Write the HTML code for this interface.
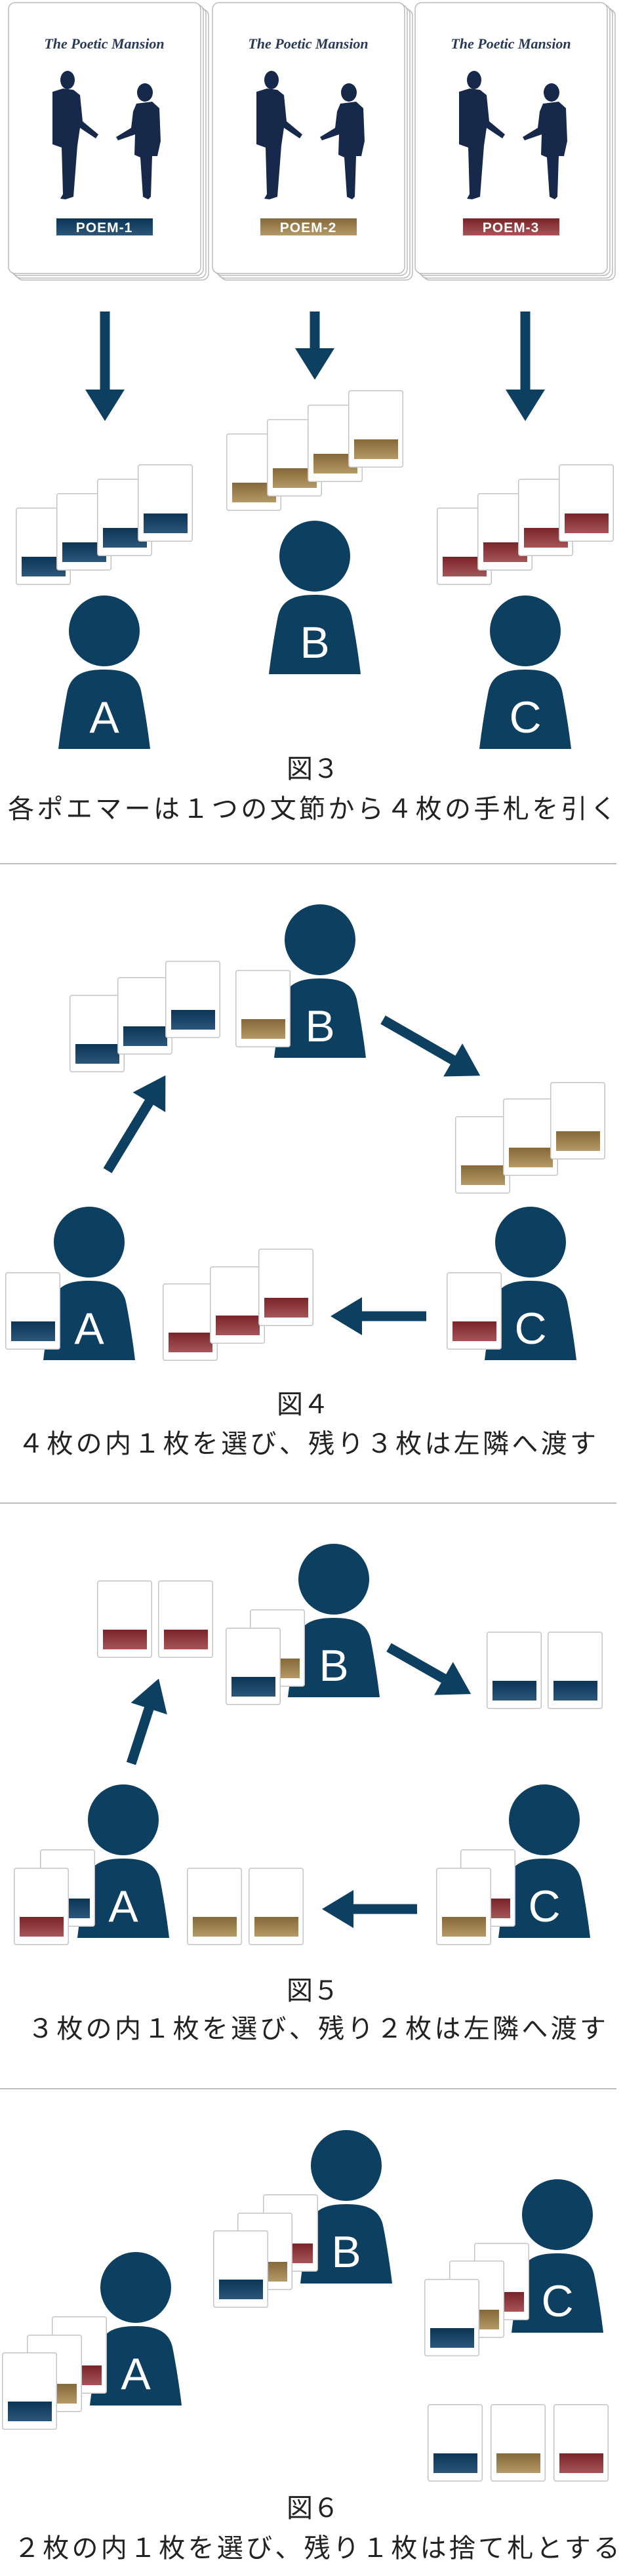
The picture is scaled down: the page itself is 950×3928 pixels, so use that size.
<!DOCTYPE html>
<html><head><meta charset="utf-8"><style>html,body{margin:0;padding:0;background:#fff}svg{display:block}</style></head>
<body>
<svg width="950" height="3928" viewBox="0 0 950 3928" xmlns="http://www.w3.org/2000/svg">
<defs>
<linearGradient id="gB" x1="0" y1="0" x2="0" y2="1"><stop offset="0" stop-color="#0b3455"/><stop offset="1" stop-color="#2c5778"/></linearGradient>
<linearGradient id="gG" x1="0" y1="0" x2="0" y2="1"><stop offset="0" stop-color="#85683a"/><stop offset="1" stop-color="#b49a66"/></linearGradient>
<linearGradient id="gR" x1="0" y1="0" x2="0" y2="1"><stop offset="0" stop-color="#7a2428"/><stop offset="1" stop-color="#a65558"/></linearGradient>
<symbol id="cb" viewBox="0 0 84 118"><rect x="0.75" y="0.75" width="82.5" height="116.5" rx="3" fill="#fff" stroke="#c4c4c4" stroke-width="1.5"/><rect x="9" y="75" width="67" height="30" fill="url(#gB)"/></symbol>
<symbol id="cg" viewBox="0 0 84 118"><rect x="0.75" y="0.75" width="82.5" height="116.5" rx="3" fill="#fff" stroke="#c4c4c4" stroke-width="1.5"/><rect x="9" y="75" width="67" height="30" fill="url(#gG)"/></symbol>
<symbol id="cr" viewBox="0 0 84 118"><rect x="0.75" y="0.75" width="82.5" height="116.5" rx="3" fill="#fff" stroke="#c4c4c4" stroke-width="1.5"/><rect x="9" y="75" width="67" height="30" fill="url(#gR)"/></symbol>
<symbol id="p" viewBox="0 0 140 235"><circle cx="70" cy="54" r="54" fill="#0c3f60"/><path d="M0,234 C4,200 10,165 14,145 C20,120 40,113 70,113 C100,113 120,120 126,145 C130,165 136,200 140,234 Z" fill="#0c3f60"/></symbol>
<g id="deck">
<rect x="25" y="14" width="293" height="413" rx="10" fill="#fff" stroke="#bbb" stroke-width="1.5"/>
<rect x="21" y="11" width="293" height="413" rx="10" fill="#fff" stroke="#bbb" stroke-width="1.5"/>
<rect x="17" y="7" width="293" height="413" rx="10" fill="#fff" stroke="#bbb" stroke-width="1.5"/>
<rect x="13" y="4" width="293" height="413" rx="10" fill="#fff" stroke="#bbb" stroke-width="1.5"/>
<g fill="#17294a">
<ellipse cx="103" cy="122" rx="11" ry="14"/>
<path d="M80,140 L96,135 L112,137 L122,145 L126,185 L150,205 L146,211 L122,195 L118,222 L112,300 L100,304 L92,303 L96,296 L94,225 L80,220 Z"/>
<ellipse cx="221" cy="141" rx="12" ry="14"/>
<path d="M208,158 L232,155 L243,165 L245,215 L240,238 L232,238 L230,300 L226,304 L218,300 L214,240 L205,236 L206,205 L180,214 L177,209 L200,195 L203,170 Z"/>
</g>
</g>
</defs>

<use href="#deck"/>
<use href="#deck" x="311"/>
<use href="#deck" x="620"/>
<g font-family="Liberation Serif, serif" font-style="italic" font-weight="bold" font-size="22" fill="#2a3858" text-anchor="middle">
<text x="159" y="74">The Poetic Mansion</text>
<text x="470" y="74">The Poetic Mansion</text>
<text x="779" y="74">The Poetic Mansion</text>
</g>
<rect x="86" y="333" width="147" height="26" fill="url(#gB)"/>
<rect x="397" y="333" width="147" height="26" fill="url(#gG)"/>
<rect x="706" y="333" width="147" height="26" fill="url(#gR)"/>
<g font-family="Liberation Sans, sans-serif" font-weight="bold" font-size="21" fill="#fff" text-anchor="middle" letter-spacing="1">
<text x="159" y="354">POEM-1</text>
<text x="470" y="354">POEM-2</text>
<text x="779" y="354">POEM-3</text>
</g>

<g fill="#0c3f60">
<g transform="translate(160,475) rotate(90)"><path d="M0,-7.5 H119 V-30 L167,0 L119,30 V7.5 H0 Z"/></g>
<g transform="translate(480,475) rotate(90)"><path d="M0,-7.5 H56 V-30 L104,0 L56,30 V7.5 H0 Z"/></g>
<g transform="translate(801,475) rotate(90)"><path d="M0,-7.5 H119 V-30 L167,0 L119,30 V7.5 H0 Z"/></g>
<g transform="translate(164,1785) rotate(-58.7)"><path d="M0,-7.5 H122 V-29 L170,0 L122,29 V7.5 H0 Z"/></g>
<g transform="translate(584,1555) rotate(29.9)"><path d="M0,-7.5 H123 V-29 L171,0 L123,29 V7.5 H0 Z"/></g>
<g transform="translate(650,2007) rotate(180)"><path d="M0,-7.5 H98 V-29 L146,0 L98,29 V7.5 H0 Z"/></g>
<g transform="translate(200,2689) rotate(-72)"><path d="M0,-7.5 H88 V-29 L136,0 L88,29 V7.5 H0 Z"/></g>
<g transform="translate(593,2512) rotate(29.6)"><path d="M0,-7.5 H96 V-29 L144,0 L96,29 V7.5 H0 Z"/></g>
<g transform="translate(636,2911) rotate(180)"><path d="M0,-7.5 H97 V-29 L145,0 L97,29 V7.5 H0 Z"/></g>
</g>

<use href="#p" x="89" y="908" width="140" height="235"/>
<use href="#p" x="410" y="794" width="140" height="235"/>
<use href="#p" x="731" y="908" width="140" height="235"/>
<use href="#p" x="418" y="1379" width="140" height="235"/>
<use href="#p" x="66" y="1840" width="140" height="235"/>
<use href="#p" x="739" y="1840" width="140" height="235"/>
<use href="#p" x="439" y="2354" width="140" height="235"/>
<use href="#p" x="118" y="2721" width="140" height="235"/>
<use href="#p" x="760" y="2721" width="140" height="235"/>
<use href="#p" x="458" y="3248" width="140" height="235"/>
<use href="#p" x="780" y="3323" width="140" height="235"/>
<use href="#p" x="137" y="3434" width="140" height="235"/>

<g font-family="Liberation Sans, sans-serif" font-size="68" fill="#fff" text-anchor="middle">
<text x="159" y="1117">A</text>
<text x="480" y="1003">B</text>
<text x="801" y="1117">C</text>
<text x="488" y="1588">B</text>
<text x="136" y="2049">A</text>
<text x="809" y="2049">C</text>
<text x="509" y="2563">B</text>
<text x="188" y="2930">A</text>
<text x="830" y="2930">C</text>
<text x="528" y="3457">B</text>
<text x="850" y="3532">C</text>
<text x="207" y="3643">A</text>
</g>

<use href="#cb" x="24" y="774" width="84" height="118"/>
<use href="#cb" x="86" y="752" width="84" height="118"/>
<use href="#cb" x="148" y="730" width="84" height="118"/>
<use href="#cb" x="210" y="708" width="84" height="118"/>
<use href="#cg" x="345" y="661" width="84" height="118"/>
<use href="#cg" x="407" y="639" width="84" height="118"/>
<use href="#cg" x="469" y="617" width="84" height="118"/>
<use href="#cg" x="531" y="595" width="84" height="118"/>
<use href="#cr" x="666" y="774" width="84" height="118"/>
<use href="#cr" x="728" y="752" width="84" height="118"/>
<use href="#cr" x="790" y="730" width="84" height="118"/>
<use href="#cr" x="852" y="708" width="84" height="118"/>
<use href="#cb" x="106" y="1517" width="84" height="118"/>
<use href="#cb" x="179" y="1490" width="84" height="118"/>
<use href="#cb" x="252" y="1465" width="84" height="118"/>
<use href="#cg" x="359" y="1479" width="84" height="118"/>
<use href="#cg" x="694" y="1702" width="84" height="118"/>
<use href="#cg" x="767" y="1675" width="84" height="118"/>
<use href="#cg" x="839" y="1650" width="84" height="118"/>
<use href="#cb" x="8" y="1940" width="84" height="118"/>
<use href="#cr" x="248" y="1957" width="84" height="118"/>
<use href="#cr" x="320" y="1931" width="84" height="118"/>
<use href="#cr" x="394" y="1904" width="84" height="118"/>
<use href="#cr" x="681" y="1940" width="84" height="118"/>
<use href="#cr" x="148" y="2410" width="84" height="118"/>
<use href="#cr" x="241" y="2410" width="84" height="118"/>
<use href="#cg" x="381" y="2454" width="84" height="118"/>
<use href="#cb" x="344" y="2482" width="84" height="118"/>
<use href="#cb" x="742" y="2488" width="84" height="118"/>
<use href="#cb" x="835" y="2488" width="84" height="118"/>
<use href="#cb" x="61" y="2820" width="84" height="118"/>
<use href="#cr" x="21" y="2848" width="84" height="118"/>
<use href="#cg" x="285" y="2848" width="84" height="118"/>
<use href="#cg" x="379" y="2848" width="84" height="118"/>
<use href="#cr" x="702" y="2820" width="84" height="118"/>
<use href="#cg" x="665" y="2848" width="84" height="118"/>
<use href="#cr" x="401" y="3346" width="84" height="118"/>
<use href="#cg" x="362" y="3374" width="84" height="118"/>
<use href="#cb" x="325" y="3401" width="84" height="118"/>
<use href="#cr" x="723" y="3420" width="84" height="118"/>
<use href="#cg" x="685" y="3447" width="84" height="118"/>
<use href="#cb" x="647" y="3475" width="84" height="118"/>
<use href="#cr" x="79" y="3532" width="84" height="118"/>
<use href="#cg" x="41" y="3560" width="84" height="118"/>
<use href="#cb" x="3" y="3587" width="84" height="118"/>
<use href="#cb" x="652" y="3666" width="84" height="118"/>
<use href="#cg" x="748" y="3666" width="84" height="118"/>
<use href="#cr" x="844" y="3666" width="84" height="118"/>

<g stroke="#bdbdbd" stroke-width="2">
<line x1="0" y1="1317" x2="940" y2="1317"/>
<line x1="0" y1="2292" x2="940" y2="2292"/>
<line x1="0" y1="3185" x2="940" y2="3185"/>
</g>

<g font-family="Liberation Sans, 'Noto Sans CJK JP', sans-serif" font-size="40" fill="#222" text-anchor="middle">
<text x="477" y="1186">図３</text>
<text x="476" y="1247" textLength="928" lengthAdjust="spacing">各ポエマーは１つの文節から４枚の手札を引く</text>
<text x="462" y="2155">図４</text>
<text x="468" y="2215" textLength="882" lengthAdjust="spacing">４枚の内１枚を選び、残り３枚は左隣へ渡す</text>
<text x="477" y="3049">図５</text>
<text x="483" y="3107" textLength="882" lengthAdjust="spacing">３枚の内１枚を選び、残り２枚は左隣へ渡す</text>
<text x="477" y="3838">図６</text>
<text x="483" y="3899" textLength="924" lengthAdjust="spacing">２枚の内１枚を選び、残り１枚は捨て札とする</text>
</g>
</svg>
</body></html>
